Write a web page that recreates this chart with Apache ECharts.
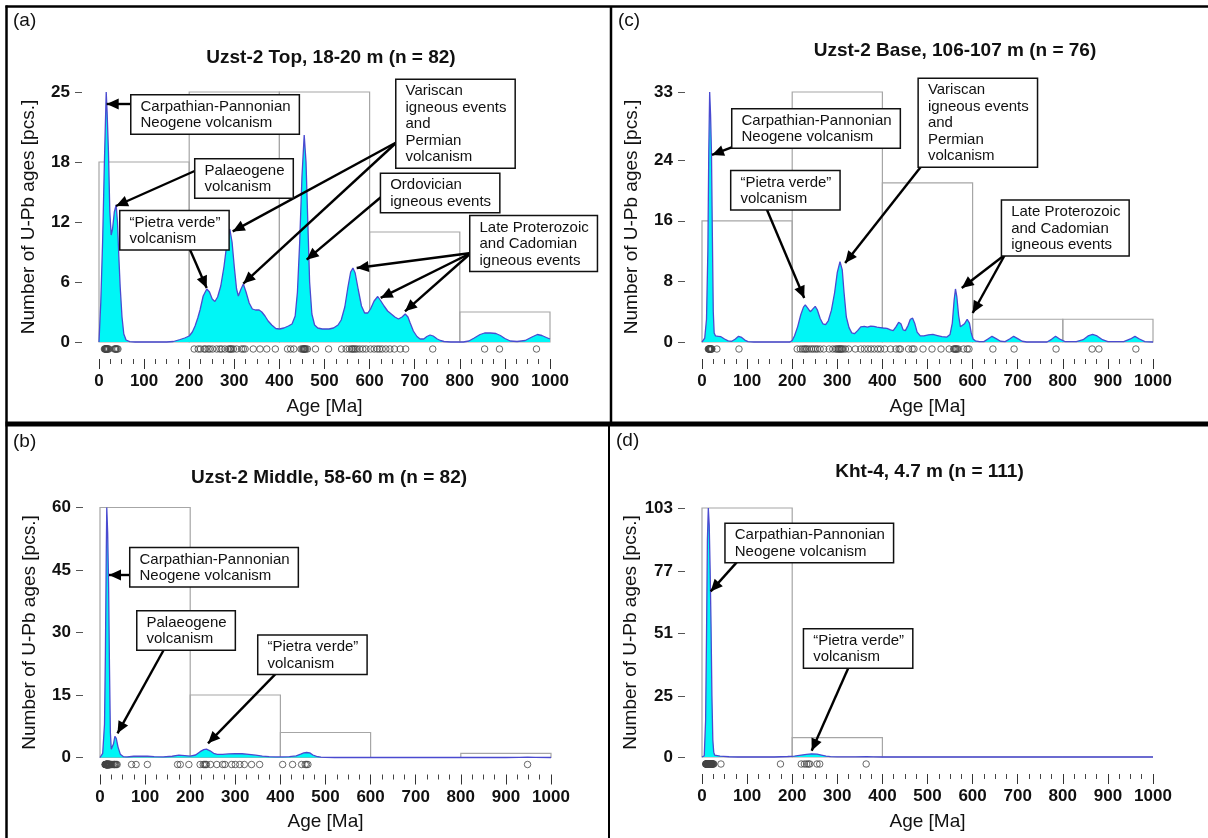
<!DOCTYPE html>
<html><head><meta charset="utf-8">
<script src="https://cdn.jsdelivr.net/npm/echarts@6/dist/echarts.min.js"></script>
<style>html,body{margin:0;padding:0;background:#fff}#c{width:1208px;height:838px}</style>
</head><body><div id="c"></div>
<script>
// ---------- DATA ----------
const binEdges = [0, 200, 400, 600, 800, 1000];
const xTicks = [0, 100, 200, 300, 400, 500, 600, 700, 800, 900, 1000];

// histogram counts per 200 Ma bin
const histA = [18, 25, 25, 11, 3];
const histC = [16, 33, 21, 3, 3];
const histB = [60, 15, 6, 0, 1];
const histD = [103, 8, 0, 0, 0];

// y-axis tick labels
const yTicksA = [0, 6, 12, 18, 25];
const yTicksC = [0, 8, 16, 24, 33];
const yTicksB = [0, 15, 30, 45, 60];
const yTicksD = [0, 25, 51, 77, 103];

// kernel density curves [age Ma, value]
const kdeA = [[0,0],[4,4],[8,10],[12,18],[16,25],[18,23],[21,19],[24,13],[27,10.7],[30,11.3],[34,13],[38,13.7],[41,12],[44,8.5],[47,5.5],[51,2.5],[55,0.8],[60,0.2],[68,0.03],[80,0],[150,0],[165,0.05],[180,0.25],[190,0.4],[200,0.6],[207,1.0],[213,1.6],[219,2.4],[224,3.2],[231,4.6],[239,5.3],[245,5],[251,4.3],[257,4.05],[263,4.5],[270,5.6],[277,7.5],[284,10],[290,11.3],[295,10],[300,7.5],[305,5.3],[309,4.6],[314,5.2],[320,5.8],[326,5],[333,3.9],[340,3.3],[347,3.2],[355,3.2],[361,3.0],[368,2.6],[375,2.1],[383,1.7],[392,1.35],[400,1.3],[410,1.4],[420,1.6],[428,1.8],[435,2.6],[440,5],[445,10],[450,16.5],[455,20.7],[459,18],[463,12],[467,6],[472,2.8],[478,1.7],[485,1.4],[495,1.3],[510,1.3],[520,1.4],[530,1.7],[537,2.2],[545,3.5],[552,5.5],[558,7],[563,7.4],[568,6.9],[575,5.2],[582,3.6],[589,2.9],[596,2.9],[602,3.3],[610,4.1],[618,4.55],[625,4.1],[632,3.6],[640,3.1],[648,2.8],[656,2.5],[664,2.3],[672,2.5],[679,2.8],[685,2.5],[690,1.9],[697,1.1],[705,0.55],[712,0.3],[720,0.3],[727,0.55],[734,0.7],[741,0.6],[750,0.3],[757,0.15],[765,0.05],[780,0],[808,0],[820,0.1],[832,0.4],[845,0.75],[855,0.9],[868,0.9],[880,0.85],[890,0.65],[900,0.35],[912,0.1],[927,0.05],[945,0.15],[960,0.5],[972,0.75],[982,0.65],[992,0.45],[1000,0.3]];
const kdeC = [[0,0],[6,0.5],[10,3],[13,12],[15,25],[17,33],[19,30],[21,25],[23,14],[25,4],[27,1.2],[30,0.8],[36,0.75],[42,0.7],[50,0.4],[58,0.15],[66,0.1],[74,0.4],[81,0.75],[88,0.6],[95,0.25],[102,0.05],[115,0],[195,0],[200,0.2],[205,0.8],[212,2],[219,3.6],[225,4.6],[229,4.9],[234,4.5],[240,4.0],[245,4.3],[251,4.7],[256,4.2],[262,3.1],[268,2.4],[274,2.3],[280,2.8],[287,4.2],[294,6.5],[300,9.2],[306,10.6],[311,9.5],[315,6.5],[320,3.3],[326,1.9],[332,1.2],[338,1.1],[345,1.5],[352,2.0],[360,2.05],[367,1.95],[374,2.1],[381,2.05],[388,1.95],[395,1.9],[402,1.85],[410,1.8],[418,1.6],[424,1.5],[430,2.0],[436,2.6],[441,2.4],[446,1.6],[451,1.5],[457,2.2],[462,3.0],[467,3.15],[472,2.4],[477,1.3],[484,0.8],[492,0.8],[502,0.95],[512,1.0],[522,0.85],[532,0.7],[543,0.65],[550,1.0],[555,2.5],[559,5.5],[562,7.0],[565,6.0],[569,3.5],[573,2.0],[577,1.8],[582,2.4],[588,3.0],[593,2.5],[597,1.2],[601,0.4],[606,0.15],[615,0.05],[625,0.05],[634,0.4],[643,0.75],[652,0.45],[662,0.1],[672,0.05],[682,0.4],[691,0.75],[700,0.45],[710,0.1],[720,0],[765,0],[775,0.35],[784,0.75],[793,0.4],[805,0.05],[830,0.05],[845,0.3],[856,0.8],[866,1.0],[876,0.8],[888,0.3],[900,0.05],[935,0.05],[950,0.4],[960,0.75],[970,0.4],[982,0.05],[1000,0]];
const kdeB = [[0,0],[6,1],[10,8],[12,25],[14,50],[15,60],[17,54],[19,42],[21,22],[23,6],[25,2],[27,1.9],[30,3.3],[33,5.1],[36,4.6],[40,2.5],[45,0.8],[52,0.2],[60,0.15],[75,0.3],[90,0.35],[105,0.3],[120,0.2],[140,0.15],[160,0.3],[175,0.55],[188,0.45],[200,0.35],[212,0.6],[222,1.4],[230,1.9],[236,2.0],[244,1.6],[252,1.0],[260,0.75],[272,0.75],[285,0.85],[300,0.9],[315,0.9],[330,0.75],[345,0.55],[360,0.35],[375,0.2],[390,0.15],[405,0.15],[420,0.2],[435,0.4],[445,0.8],[452,1.1],[458,1.2],[465,1.1],[472,0.6],[480,0.25],[490,0.08],[500,0.02],[520,0],[900,0],[930,0.05],[948,0.1],[965,0.05],[1000,0]];
const kdeD = [[0,0],[5,0.5],[8,15],[10,50],[12,90],[14,103],[16,96],[18,78],[20,55],[22,25],[24,7],[26,2],[28,0.8],[32,0.5],[40,0.4],[48,0.3],[60,0.1],[80,0],[160,0],[175,0.1],[190,0.2],[205,0.4],[220,0.8],[232,1.1],[243,1.3],[255,1.2],[265,0.8],[275,0.4],[285,0.15],[300,0.05],[340,0.05],[365,0.1],[380,0.05],[400,0],[1000,0]];

// individual grain ages [Ma]
const agesA = [12,13,14,15,15,16,16,17,18,19,20,22,34,36,37,38,40,42,
  211,220,225,233,236,242,246,252,261,268,272,279,287,290,292,294,298,305,316,320,324,342,357,372,391,
  418,425,432,448,451,453,454,455,456,457,459,462,480,509,538,548,555,560,562,565,568,572,578,585,592,
  602,610,617,622,628,636,645,655,668,680,740, 855,888,970];
const agesC = [14,15,16,16,17,17,17,18,18,19,19,20,21,22,33,82,
  211,218,223,227,230,233,238,243,247,252,256,262,270,282,290,296,299,302,304,306,308,310,313,318,325,340,352,360,368,375,382,390,396,
  405,418,430,437,440,458,466,470,490,510,530,548,558,560,562,563,565,568,580,588,592,
  645,692,785, 865,880,962];
const agesB = [11,12,12,13,13,13,14,14,14,14,15,15,15,15,15,15,16,16,16,16,16,16,17,17,17,17,17,18,18,18,18,18,19,19,19,19,20,20,20,21,21,21,22,22,23,24,25,27,
  30,32,33,35,36,38,70,80,105,172,178,197,
  222,229,232,234,236,245,259,272,277,292,300,310,320,336,354,
  405,427,447,455,458,461, 948];
const agesD = [8,9,9,10,10,10,10,11,11,11,11,11,11,12,12,12,12,12,12,12,12,13,13,13,13,13,13,13,13,13,13,13,
  14,14,14,14,14,14,14,14,14,14,14,14,14,15,15,15,15,15,15,15,15,15,15,15,15,16,16,16,16,16,16,16,16,16,16,16,
  17,17,17,17,17,17,17,17,18,18,18,18,18,18,18,19,19,19,19,19,20,20,20,20,21,21,21,22,22,23,24,25,26,42,174,
  220,227,232,236,239,255,261,364];

// ---------- LAYOUT / ANNOTATIONS ----------
const FONT = "'Liberation Sans', Arial, Helvetica, sans-serif";
const panels = [
  { tag:'(a)', title:'Uzst-2 Top, 18-20 m (n = 82)', hist:histA, kde:kdeA, ages:agesA, yTicks:yTicksA,
    grid:{left:99, top:92, width:451, height:250}, titleXY:[331,48], tagXY:[13,11],
    notes:[
      {text:'Carpathian-Pannonian\nNeogene volcanism', box:[73.2,20.8], arrows:[[[73.2,23.8],[17.1,23.8]]]},
      {text:'Palaeogene\nvolcanism', box:[215,14.4], arrows:[[[217,17.2],[37.7,13.6]]]},
      {text:'\u201cPietra verde\u201d\nvolcanism', box:[48.8,9.23], arrows:[[[201.8,9.23],[238.8,5.4]]]},
      {text:'Variscan\nigneous events\nand\nPermian\nvolcanism', box:[660.8,17.4], arrows:[[[660.8,20.0],[296.5,11.06]],[[660.8,20.0],[320,5.84]]]},
      {text:'Ordovician\nigneous events', box:[626.8,12.95], arrows:[[[626.8,14.55],[460.5,8.23]]]},
      {text:'Late Proterozoic\nand Cadomian\nigneous events', box:[824.8,7.07], arrows:[[[824.8,8.9],[571.4,7.4]],[[824.8,8.9],[624.6,4.41]],[[824.8,8.9],[678.5,3.07]]]}
    ]},
  { tag:'(c)', title:'Uzst-2 Base, 106-107 m (n = 76)', hist:histC, kde:kdeC, ages:agesC, yTicks:yTicksC,
    grid:{left:702, top:92, width:451, height:250}, titleXY:[955,41], tagXY:[618,11],
    notes:[
      {text:'Carpathian-Pannonian\nNeogene volcanism', box:[68.7,25.6], arrows:[[[70,25.8],[22.1,24.7]]]},
      {text:'\u201cPietra verde\u201d\nvolcanism', box:[66.4,17.46], arrows:[[[144,17.46],[226.6,5.8]]]},
      {text:'Variscan\nigneous events\nand\nPermian\nvolcanism', box:[482,23.1], arrows:[[[485,23.1],[317.4,10.43]]]},
      {text:'Late Proterozoic\nand Cadomian\nigneous events', box:[666.7,11.4], arrows:[[[671.8,11.52],[575.9,7.13]],[[671.8,11.52],[600.2,3.83]]]}
    ]},
  { tag:'(b)', title:'Uzst-2 Middle, 58-60 m (n = 82)', hist:histB, kde:kdeB, ages:agesB, yTicks:yTicksB,
    grid:{left:100, top:507.5, width:451, height:250}, titleXY:[329,468], tagXY:[13,432],
    notes:[
      {text:'Carpathian-Pannonian\nNeogene volcanism', box:[68.7,41.0], arrows:[[[68.7,43.8],[20,43.8]]]},
      {text:'Palaeogene\nvolcanism', box:[84.3,25.8], arrows:[[[141.2,25.8],[38.8,5.8]]]},
      {text:'\u201cPietra verde\u201d\nvolcanism', box:[352.5,20.0], arrows:[[[388.9,20.0],[239.5,3.4]]]}
    ]},
  { tag:'(d)', title:'Kht-4, 4.7 m (n = 111)', hist:histD, kde:kdeD, ages:agesD, yTicks:yTicksD,
    grid:{left:702, top:508, width:451, height:249}, titleXY:[929.5,462], tagXY:[616,431],
    notes:[
      {text:'Carpathian-Pannonian\nNeogene volcanism', box:[53.7,80.5], arrows:[[[76.9,80.5],[19.3,68.5]]]},
      {text:'\u201cPietra verde\u201d\nvolcanism', box:[227.7,36.8], arrows:[[[324.4,36.8],[243.2,2.6]]]}
    ]}
];

// arrow head with its tip at the symbol centre
const ARROW = 'path://M-12,-12L-12,-12M12,12L12,12M0,0L5.5,12L-5.5,12Z';

const grids = [], xAxes = [], yAxes = [], series = [], titles = [];
panels.forEach((p, i) => {
  grids.push(Object.assign({containLabel:false}, p.grid));
  const yMax = p.yTicks[p.yTicks.length - 1];
  xAxes.push({
    type:'value', gridIndex:i, min:0, max:1000, interval:100, offset:17,
    axisLine:{show:false, onZero:false},
    axisTick:{show:true, length:10, lineStyle:{color:'#333', width:1}},
    minorTick:{show:true, splitNumber:4, length:5, lineStyle:{color:'#444', width:1}},
    splitLine:{show:false}, minorSplitLine:{show:false},
    axisLabel:{fontSize:17, fontWeight:'bold', color:'#111', margin:14, fontFamily:FONT,
      customValues: xTicks, formatter: v => String(v)},
    name:'Age [Ma]', nameLocation:'middle', nameGap:38,
    nameTextStyle:{fontSize:19, color:'#111', fontFamily:FONT}
  });
  yAxes.push({
    type:'value', gridIndex:i, min:0, max:yMax, offset:17,
    axisLine:{show:false, onZero:false},
    axisTick:{show:true, length:7, lineStyle:{color:'#555', width:1}, customValues:p.yTicks},
    axisLabel:{fontSize:17, fontWeight:'bold', color:'#111', margin:12, fontFamily:FONT,
      customValues:p.yTicks, formatter: v => String(v)},
    splitLine:{show:false},
    name:'Number of U-Pb ages [pcs.]', nameLocation:'middle', nameGap:44,
    nameTextStyle:{fontSize:19, color:'#111', fontFamily:FONT}
  });
  // histogram outline boxes
  series.push({
    type:'custom', xAxisIndex:i, yAxisIndex:i, silent:true, z:1, animation:false,
    data: p.hist.map((c, j) => [binEdges[j], binEdges[j + 1], c]),
    encode:{x:[0, 1], y:2},
    renderItem: (params, api) => {
      const a = api.coord([api.value(0), 0]);
      const b = api.coord([api.value(1), api.value(2)]);
      return {type:'rect', shape:{x:a[0], y:b[1], width:b[0] - a[0], height:a[1] - b[1]},
        style:{fill:'none', stroke:'#a6a6a6', lineWidth:1.2}};
    }
  });
  // KDE curve + annotations
  series.push({
    type:'line', xAxisIndex:i, yAxisIndex:i, data:p.kde, showSymbol:false, smooth:false, z:2,
    silent:true, animation:false, clip:false,
    lineStyle:{color:'#4a4ad0', width:1.3},
    areaStyle:{color:'#00f6f6', opacity:1},
    markLine:{
      silent:true, animation:false, symbol:['none', ARROW], symbolSize:24, precision:4,
      lineStyle:{color:'#000', width:2.4, type:'solid'}, label:{show:false},
      emphasis:{disabled:true},
      data: p.notes.flatMap(n => n.arrows.map(a => [{coord:a[0]}, {coord:a[1]}]))
    },
    markPoint:{
      silent:true, animation:false, symbol:'rect', symbolSize:1, itemStyle:{color:'rgba(0,0,0,0)'},
      emphasis:{disabled:true},
      data: p.notes.map(n => ({coord:n.box, value:0,
        label:{show:true, position:[0, 0], align:'left', verticalAlign:'bottom', formatter:n.text,
          backgroundColor:'#fff', borderColor:'#111', borderWidth:1.5, padding:[3, 8, 2, 9],
          fontSize:15, lineHeight:16.5, color:'#111', fontFamily:FONT}}))
    }
  });
  // individual ages
  series.push({
    type:'scatter', xAxisIndex:i, yAxisIndex:i, silent:true, animation:false, z:3, clip:false,
    data: p.ages.map(a => [a, 0]), symbol:'circle', symbolSize:6.5, symbolOffset:[0, 7],
    itemStyle:{color:'rgba(0,0,0,0)', borderColor:'#444', borderWidth:1}
  });
  titles.push({text:p.title, left:p.titleXY[0], top:p.titleXY[1], textAlign:'center', padding:0,
    textStyle:{fontSize:19, fontWeight:'bold', color:'#111', fontFamily:FONT}});
  titles.push({text:p.tag, left:p.tagXY[0], top:p.tagXY[1], padding:0,
    textStyle:{fontSize:19, fontWeight:'normal', color:'#111', fontFamily:FONT}});
});

const chart = echarts.init(document.getElementById('c'), null, {renderer:'canvas'});
chart.setOption({
  backgroundColor:'#fff', animation:false,
  title: titles, grid: grids, xAxis: xAxes, yAxis: yAxes, series: series,
  graphic: [
    {type:'line', shape:{x1:5.5, y1:6.5, x2:1208, y2:6.5}, style:{stroke:'#000', lineWidth:2.5}},
    {type:'line', shape:{x1:6.5, y1:5.5, x2:6.5, y2:838}, style:{stroke:'#000', lineWidth:2.5}},
    {type:'line', shape:{x1:611, y1:6, x2:611, y2:424}, style:{stroke:'#000', lineWidth:2.5}},
    {type:'line', shape:{x1:5.5, y1:424, x2:1208, y2:424}, style:{stroke:'#000', lineWidth:5}},
    {type:'line', shape:{x1:609, y1:424, x2:609, y2:838}, style:{stroke:'#000', lineWidth:2}}
  ]
});
</script></body></html>
